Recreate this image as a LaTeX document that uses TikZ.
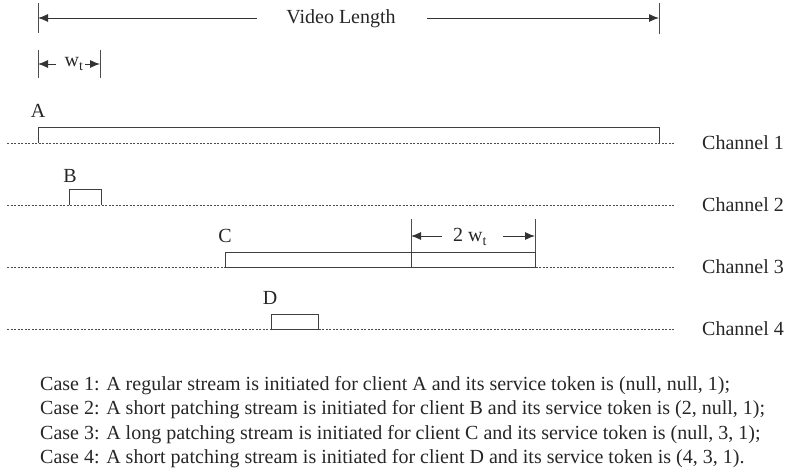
\documentclass[tikz,border=0pt]{standalone}
\usepackage{fontspec}
\setmainfont{Liberation Serif}
\usetikzlibrary{arrows.meta}
\begin{document}
\begin{tikzpicture}[x=1pt,y=-1pt,
  txt/.style={font=\fontsize{20}{24}\selectfont, inner sep=0pt, text=black!85},
  chan/.style={draw=black!70, line width=0.7pt, dash pattern=on 2.2pt off 1.3pt},
  stream/.style={draw=black!75, line width=0.9pt},
  tick/.style={draw=black!70, line width=0.9pt},
  dim/.style={draw=black!80, line width=0.9pt, -{Latex[length=10pt,width=8pt]}}]
\useasboundingbox (0,0) rectangle (786,473);
% Video length
\coordinate (vl1) at (38,3); \coordinate (vl2) at (38,33);
\coordinate (vr1) at (659,3); \coordinate (vr2) at (659,34);
\draw[tick] (vl1) -- (vl2);
\draw[tick] (vr1) -- (vr2);
\node[txt] (vlen) at (341,19) {Video Length};
\coordinate (vla) at (257,18); \coordinate (vlb) at (38,18);
\coordinate (vra) at (427,18); \coordinate (vrb) at (659,18);
\draw[dim] (vla) -- (vlb);
\draw[dim] (vra) -- (vrb);
% w_t
\coordinate (w1a) at (38,50); \coordinate (w1b) at (38,78);
\coordinate (w2a) at (100,50); \coordinate (w2b) at (100,78);
\draw[tick] (w1a) -- (w1b);
\draw[tick] (w2a) -- (w2b);
\node[txt] (wt) at (74,64) {w\textsubscript{t}};
\coordinate (wla) at (56,64); \coordinate (wlb) at (38,64);
\coordinate (wra) at (85,64); \coordinate (wrb) at (100,64);
\draw[dim] (wla) -- (wlb);
\draw[dim] (wra) -- (wrb);
% Channel lines
\foreach \y/\n in {143/1,205/2,267/3,329/4}{
  \coordinate (cs\n) at (7,\y);
  \coordinate (ce\n) at (675,\y);
  \draw[chan] (cs\n) -- (ce\n);
  \node[txt, anchor=west] (ch\n) at (702,\y) {Channel \n};
}
% A
\node[txt] (la) at (38,111) {A};
\draw[stream] (38,143) -- (38,127) -- (659,127) -- (659,143);
% B
\node[txt] (lb) at (70,176) {B};
\draw[stream] (69,205) -- (69,189) -- (101,189) -- (101,205);
% C
\node[txt] (lc) at (225,236) {C};
\draw[stream] (225,267) -- (225,252) -- (535,252) -- (535,267) -- (225,267);
\draw[stream] (411,252) -- (411,267);
\coordinate (c1a) at (411,219); \coordinate (c1b) at (411,252);
\coordinate (c2a) at (535,219); \coordinate (c2b) at (535,252);
\draw[tick] (c1a) -- (c1b);
\draw[tick] (c2a) -- (c2b);
\node[txt] (twt) at (470,237) {2 w\textsubscript{t}};
\coordinate (cla) at (442,236); \coordinate (clb) at (411,236);
\coordinate (cra) at (503,236); \coordinate (crb) at (535,236);
\draw[dim] (cla) -- (clb);
\draw[dim] (cra) -- (crb);
% D
\node[txt] (ld) at (270,298) {D};
\draw[stream] (271,329) -- (271,314) -- (318,314) -- (318,329) -- (271,329);
% Cases
\node[txt, anchor=base west] (case1) at (40,390) {Case 1: A regular stream is initiated for client A and its service token is (null, null, 1);};
\node[txt, anchor=base west] (case2) at (40,414.5) {Case 2: A short patching stream is initiated for client B and its service token is (2, null, 1);};
\node[txt, anchor=base west] (case3) at (40,439) {Case 3: A long patching stream is initiated for client C and its service token is (null, 3, 1);};
\node[txt, anchor=base west] (case4) at (40,463.5) {Case 4: A short patching stream is initiated for client D and its service token is (4, 3, 1).};
\end{tikzpicture}
\end{document}
